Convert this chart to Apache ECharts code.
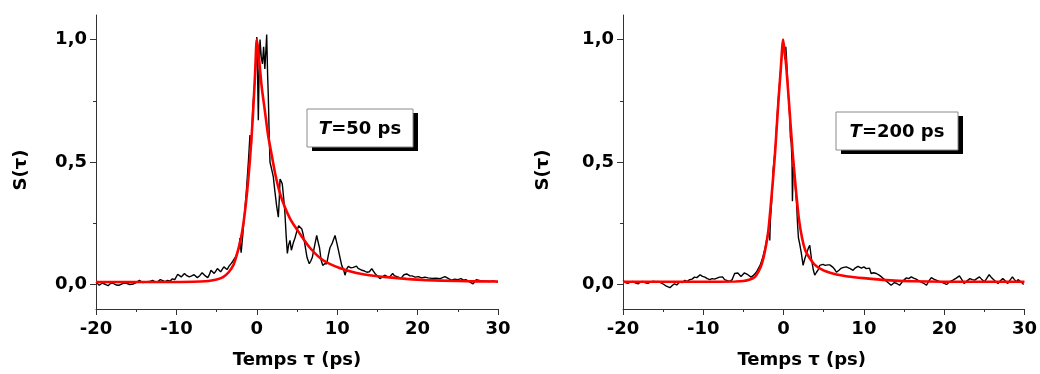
<!DOCTYPE html>
<html>
<head>
<meta charset="utf-8">
<script src="https://cdn.jsdelivr.net/npm/echarts@6/dist/echarts.min.js"></script>
<style>
html,body{margin:0;padding:0;background:#fff;}
#c{width:1040px;height:374px;}
</style>
</head>
<body>
<div id="c"></div>
<script>
// ---- data ----
const xTicks = [-20, -10, 0, 10, 20, 30];
const yTickValues = [0, 0.5, 1.0];
const yMinorValues = [0.25, 0.75];
const xAxisName = 'Temps \u03c4 (ps)';
const yAxisName = 'S(\u03c4)';
const labelLeft = '=50 ps';
const labelRight = '=200 ps';

// Left panel (T = 50 ps): measured signal [t, S]
const measLeft = [
[-20,0.01],[-19.6,-0.003],[-19.2,0.006],[-18.8,0.0],[-18.5,-0.005],[-18.2,0.004],[-17.9,0.006],[-17.5,-0.002],[-17.1,-0.003],[-16.7,0.004],[-16.3,0.006],[-15.8,0.0],[-15.4,0.002],[-15.0,0.008],[-14.6,0.017],[-14.2,0.008],[-13.8,0.01],[-13.4,0.012],[-12.95,0.017],[-12.6,0.01],[-12.3,0.012],[-12.0,0.02],[-11.7,0.016],[-11.4,0.012],[-11.1,0.017],[-10.8,0.014],[-10.5,0.023],[-10.2,0.02],[-9.84,0.042],[-9.6,0.035],[-9.4,0.031],[-9.2,0.036],[-9.0,0.045],[-8.7,0.036],[-8.4,0.031],[-8.1,0.035],[-7.8,0.04],[-7.6,0.033],[-7.4,0.028],[-7.1,0.036],[-6.8,0.048],[-6.4,0.035],[-6.1,0.028],[-5.9,0.04],[-5.7,0.058],[-5.5,0.05],[-5.3,0.045],[-5.1,0.055],[-4.9,0.065],[-4.7,0.058],[-4.5,0.052],[-4.3,0.062],[-4.1,0.072],[-3.9,0.066],[-3.7,0.061],[-3.45,0.075],[-3.2,0.085],[-3.0,0.094],[-2.8,0.1],[-2.6,0.115],[-2.4,0.12],[-2.2,0.15],[-2.1,0.19],[-1.95,0.13],[-1.75,0.2],[-1.5,0.3],[-1.3,0.38],[-1.05,0.5],[-0.85,0.61],[-0.7,0.55],[-0.5,0.72],[-0.22,0.84],[-0.08,0.95],[0.0,1.01],[0.1,0.85],[0.19,0.67],[0.3,0.9],[0.4,1.0],[0.55,0.93],[0.7,0.9],[0.85,0.97],[1.0,0.88],[1.12,0.95],[1.23,1.02],[1.35,0.85],[1.43,0.77],[1.55,0.6],[1.64,0.5],[1.85,0.47],[2.05,0.44],[2.25,0.38],[2.47,0.32],[2.68,0.275],[2.8,0.35],[2.89,0.43],[3.05,0.42],[3.17,0.41],[3.35,0.35],[3.5,0.29],[3.65,0.2],[3.8,0.127],[3.95,0.16],[4.13,0.18],[4.3,0.14],[4.54,0.17],[4.75,0.19],[5.0,0.22],[5.2,0.24],[5.4,0.24],[5.6,0.227],[5.8,0.2],[6.0,0.16],[6.25,0.11],[6.53,0.085],[6.7,0.095],[6.9,0.11],[7.2,0.16],[7.45,0.2],[7.65,0.17],[7.8,0.15],[8.0,0.1],[8.2,0.078],[8.45,0.085],[8.7,0.085],[8.9,0.12],[9.1,0.15],[9.4,0.17],[9.73,0.2],[9.95,0.17],[10.15,0.14],[10.35,0.11],[10.56,0.078],[10.8,0.06],[10.97,0.038],[11.2,0.065],[11.38,0.074],[11.7,0.068],[12.0,0.07],[12.2,0.065],[12.4,0.075],[12.6,0.066],[12.8,0.06],[13.1,0.058],[13.4,0.055],[13.7,0.05],[14.0,0.052],[14.3,0.065],[14.5,0.055],[14.7,0.045],[15.0,0.035],[15.3,0.024],[15.6,0.03],[15.9,0.038],[16.2,0.033],[16.5,0.03],[16.7,0.038],[16.9,0.045],[17.1,0.036],[17.3,0.03],[17.6,0.03],[17.9,0.024],[18.1,0.032],[18.3,0.04],[18.65,0.043],[19.0,0.036],[19.3,0.035],[19.7,0.03],[20.1,0.032],[20.5,0.027],[20.9,0.03],[21.3,0.027],[21.8,0.025],[22.3,0.026],[22.8,0.024],[23.4,0.032],[23.8,0.025],[24.2,0.018],[24.6,0.022],[25.0,0.02],[25.4,0.024],[25.7,0.018],[26.0,0.02],[26.4,0.012],[26.9,0.003],[27.3,0.02],[27.8,0.016],[28.3,0.014],[28.9,0.012],[29.5,0.014],[30.0,0.01]
];
// Left panel fit [t, S]
const fitLeft = [
[-20,0.01],[-10,0.01],[-7,0.012],[-6,0.014],[-5,0.02],[-4.2,0.03],[-3.5,0.05],[-2.9,0.08],[-2.5,0.12],[-2.1,0.17],[-1.8,0.22],[-1.5,0.29],[-1.2,0.38],[-0.85,0.51],[-0.5,0.68],[-0.2,0.87],[0.0,1.0],[0.2,0.95],[0.6,0.81],[1.0,0.71],[1.4,0.61],[1.9,0.52],[2.3,0.45],[2.9,0.37],[3.5,0.315],[4.2,0.265],[5.4,0.205],[6.6,0.15],[8.2,0.1],[10.3,0.067],[12.4,0.047],[14.5,0.036],[16.5,0.029],[18.6,0.023],[21,0.018],[25,0.014],[30,0.012]
];
// Right panel (T = 200 ps): measured signal [t, S]
const measRight = [
[-20,0.016],[-19.7,0.008],[-19.4,0.005],[-19.1,0.01],[-18.75,0.012],[-18.4,0.006],[-18.1,0.003],[-17.8,0.01],[-17.5,0.012],[-17.2,0.007],[-16.9,0.005],[-16.6,0.01],[-16.3,0.013],[-15.9,0.011],[-15.6,0.012],[-15.2,0.006],[-14.9,0.0],[-14.6,-0.007],[-14.4,-0.003],[-14.15,-0.013],[-13.9,-0.005],[-13.6,0.003],[-13.3,-0.002],[-12.95,0.01],[-12.6,0.008],[-12.3,0.017],[-12.0,0.012],[-11.7,0.02],[-11.4,0.022],[-11.1,0.03],[-10.8,0.028],[-10.4,0.04],[-10.1,0.033],[-9.8,0.03],[-9.5,0.024],[-9.2,0.02],[-8.9,0.024],[-8.6,0.022],[-8.3,0.026],[-7.98,0.03],[-7.6,0.031],[-7.35,0.02],[-7.0,0.016],[-6.7,0.013],[-6.4,0.02],[-6.1,0.045],[-5.9,0.04],[-5.7,0.047],[-5.5,0.04],[-5.3,0.033],[-5.1,0.04],[-4.9,0.047],[-4.7,0.043],[-4.45,0.04],[-4.25,0.035],[-4.05,0.03],[-3.8,0.036],[-3.6,0.04],[-3.4,0.05],[-3.2,0.058],[-2.9,0.08],[-2.6,0.11],[-2.3,0.15],[-2.0,0.2],[-1.8,0.21],[-1.72,0.18],[-1.65,0.26],[-1.5,0.33],[-1.35,0.42],[-1.3,0.47],[-1.2,0.5],[-1.0,0.57],[-0.85,0.66],[-0.68,0.75],[-0.5,0.82],[-0.3,0.9],[-0.15,0.97],[-0.06,1.0],[0.05,0.96],[0.15,0.92],[0.28,0.97],[0.4,0.9],[0.55,0.8],[0.7,0.72],[0.77,0.68],[0.85,0.6],[0.95,0.58],[1.05,0.5],[1.1,0.34],[1.2,0.48],[1.35,0.45],[1.5,0.38],[1.6,0.34],[1.75,0.24],[1.85,0.19],[2.0,0.167],[2.2,0.13],[2.43,0.078],[2.64,0.105],[2.9,0.13],[3.1,0.15],[3.26,0.16],[3.47,0.105],[3.7,0.06],[3.88,0.038],[4.1,0.05],[4.3,0.06],[4.5,0.078],[4.7,0.08],[4.9,0.082],[5.2,0.078],[5.5,0.08],[5.75,0.08],[5.95,0.075],[6.16,0.07],[6.4,0.06],[6.58,0.05],[6.9,0.058],[7.2,0.067],[7.5,0.07],[7.8,0.072],[8.03,0.074],[8.3,0.065],[8.65,0.058],[8.95,0.068],[9.27,0.074],[9.5,0.07],[9.69,0.067],[10.0,0.072],[10.3,0.065],[10.5,0.07],[10.7,0.067],[10.9,0.045],[11.2,0.048],[11.55,0.045],[11.9,0.038],[12.2,0.031],[12.5,0.022],[12.8,0.013],[13.1,0.005],[13.4,-0.003],[13.6,0.003],[13.8,0.008],[14.1,0.004],[14.45,-0.003],[14.8,0.012],[15.05,0.02],[15.3,0.027],[15.6,0.024],[15.9,0.031],[16.2,0.026],[16.5,0.022],[16.8,0.016],[17.1,0.011],[17.45,0.005],[17.8,-0.003],[18.1,0.015],[18.4,0.028],[18.7,0.022],[19.0,0.018],[19.3,0.014],[19.6,0.011],[19.95,0.006],[20.3,0.0],[20.7,0.012],[21.1,0.018],[21.5,0.026],[21.9,0.035],[22.2,0.02],[22.5,0.004],[22.85,0.015],[23.2,0.024],[23.5,0.02],[23.8,0.018],[24.1,0.025],[24.4,0.031],[24.7,0.02],[25.0,0.011],[25.3,0.025],[25.6,0.04],[25.85,0.03],[26.06,0.024],[26.4,0.012],[26.7,0.004],[27.0,0.015],[27.3,0.024],[27.6,0.015],[27.9,0.004],[28.2,0.018],[28.5,0.031],[28.75,0.02],[29.0,0.011],[29.2,0.02],[29.4,0.018],[29.65,0.008],[29.9,0.0]
];
// Right panel fit [t, S]
const fitRight = [
[-20,0.011],[-10,0.011],[-6,0.012],[-5,0.014],[-4.2,0.02],[-3.6,0.03],[-3.1,0.055],[-2.7,0.085],[-2.3,0.14],[-1.9,0.22],[-1.5,0.36],[-1.1,0.52],[-0.7,0.72],[-0.35,0.88],[-0.05,1.0],[0.3,0.9],[0.7,0.73],[1.1,0.55],[1.5,0.4],[1.9,0.27],[2.3,0.19],[2.7,0.14],[3.2,0.11],[3.8,0.083],[4.5,0.066],[5.5,0.051],[6.6,0.041],[8,0.033],[10,0.026],[12.8,0.018],[16,0.013],[20,0.011],[30,0.011]
];

// ---- chart ----
const FONT = 'DejaVu Sans';
const AX = '#333';
const chart = echarts.init(document.getElementById('c'), null, {renderer: 'canvas', width: 1040, height: 374});

function fmt(v){ return v.toFixed(1).replace('.', ','); }

function xAx(gi, namePad){
  return {
    type: 'value', gridIndex: gi, min: xTicks[0], max: xTicks[xTicks.length-1], interval: 10,
    name: xAxisName, nameLocation: 'middle', nameGap: 42,
    nameTextStyle: {fontFamily: FONT, fontWeight: 'bold', fontSize: 18, color: '#000', padding: namePad},
    axisLine: {show: true, onZero: false, lineStyle: {color: AX, width: 1}},
    axisTick: {show: true, inside: false, length: 6, lineStyle: {color: AX}},
    minorTick: {show: true, splitNumber: 2, length: 3, lineStyle: {color: AX}},
    splitLine: {show: false}, minorSplitLine: {show: false},
    axisLabel: {margin: 11, fontFamily: FONT, fontWeight: 'bold', fontSize: 18, color: '#000', formatter: v => String(v)}
  };
}
function yAx(gi, gap){
  return {
    type: 'value', gridIndex: gi, min: -0.1, max: 1.1,
    name: yAxisName, nameLocation: 'middle', nameGap: gap, nameRotate: 90,
    nameTextStyle: {fontFamily: FONT, fontWeight: 'bold', fontSize: 18, color: '#000', padding: [0, 16, 0, 0]},
    axisLine: {show: true, onZero: false, lineStyle: {color: AX, width: 1}},
    axisTick: {show: true, inside: false, length: 6, customValues: yTickValues, lineStyle: {color: AX}},
    splitLine: {show: false},
    axisLabel: {margin: 9, customValues: yTickValues, fontFamily: FONT, fontWeight: 'bold', fontSize: 18, color: '#000', formatter: fmt}
  };
}
function yMinor(gi){
  return {
    type: 'value', gridIndex: gi, min: -0.1, max: 1.1, position: 'left',
    axisLine: {show: false, onZero: false},
    axisTick: {show: true, inside: false, length: 3, customValues: yMinorValues, lineStyle: {color: AX}},
    axisLabel: {show: false}, splitLine: {show: false}
  };
}

function box(x, y, w, h, txt){
  return {
    type: 'group', children: [
      {type: 'rect', shape: {x: x + 5, y: y + 4, width: w, height: h}, style: {fill: '#000'}},
      {type: 'rect', shape: {x: x, y: y, width: w, height: h}, style: {fill: '#fff', stroke: '#8a8a8a', lineWidth: 1}},
      {type: 'text', x: x + w / 2, y: y + h / 2 + 1, style: {
        text: '{i|T}{n|' + txt + '}', align: 'center', verticalAlign: 'middle',
        rich: {
          i: {fontFamily: FONT, fontWeight: 'bold', fontStyle: 'italic', fontSize: 18, fill: '#000'},
          n: {fontFamily: FONT, fontWeight: 'bold', fontSize: 18, fill: '#000'}
        }
      }}
    ]
  };
}

const option = {
  animation: false,
  backgroundColor: '#fff',
  grid: [
    {left: 96, top: 15, width: 402, height: 296},
    {left: 623, top: 15, width: 402, height: 296}
  ],
  xAxis: [xAx(0, [0,0,0,0]), xAx(1, [0,44,0,0])],
  yAxis: [yAx(0, 66), yAx(1, 71), yMinor(0), yMinor(1)],
  series: [
    {type: 'line', xAxisIndex: 0, yAxisIndex: 0, data: measLeft, showSymbol: false, lineStyle: {color: '#000', width: 1.4}, z: 2},
    {type: 'line', xAxisIndex: 0, yAxisIndex: 0, data: fitLeft, showSymbol: false, smooth: 0.25, lineStyle: {color: '#ff0000', width: 2.6}, z: 3},
    {type: 'line', xAxisIndex: 1, yAxisIndex: 1, data: measRight, showSymbol: false, lineStyle: {color: '#000', width: 1.4}, z: 2},
    {type: 'line', xAxisIndex: 1, yAxisIndex: 1, data: fitRight, showSymbol: false, smooth: 0.25, lineStyle: {color: '#ff0000', width: 2.6}, z: 3}
  ],
  graphic: [
    box(307, 109, 106, 38, labelLeft),
    box(836, 112, 122, 38, labelRight)
  ]
};
chart.setOption(option);
</script>
</body>
</html>
